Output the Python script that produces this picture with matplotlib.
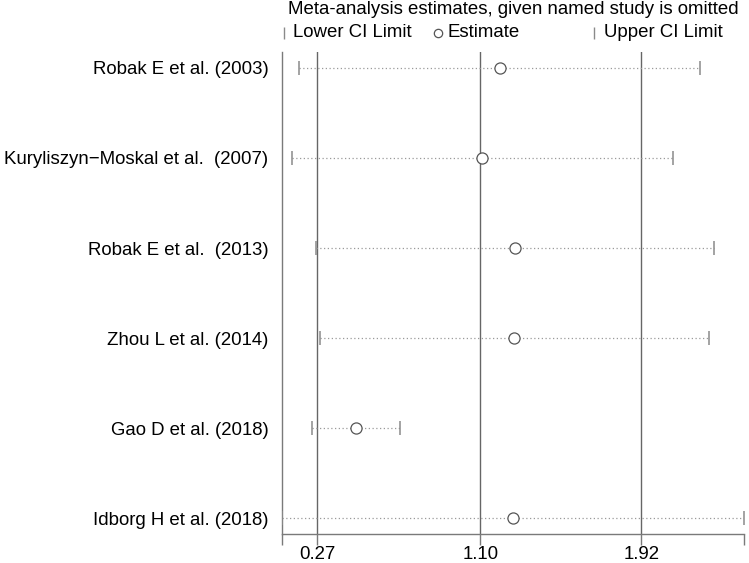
import matplotlib
matplotlib.use("Agg")
import matplotlib.pyplot as plt
from matplotlib.lines import Line2D

plt.rcParams['font.family'] = ['Liberation Sans', 'DejaVu Sans']

studies = ["Robak E et al. (2003)",
           "Kuryliszyn\u2212Moskal et al.  (2007)",
           "Robak E et al.  (2013)",
           "Zhou L et al. (2014)",
           "Gao D et al. (2018)",
           "Idborg H et al. (2018)"]
lower = [0.176, 0.140, 0.261, 0.282, 0.242, 0.088]
estimate = [1.200, 1.109, 1.278, 1.273, 0.469, 1.266]
upper = [2.221, 2.083, 2.291, 2.265, 0.693, 2.444]
overall = [0.27, 1.10, 1.92]
overall_labels = ["0.27", "1.10", "1.92"]

FS = 13.4
W, H = 749, 563
fig = plt.figure(figsize=(W / 100, H / 100), dpi=100)
ax = fig.add_axes([281.7 / W, 1 - 534 / H, (744 - 281.7) / W, (534 - 51.7) / H])

ypos = list(range(1, len(studies) + 1))
xmin, xmax = min(lower), max(upper)

for x in overall:
    ax.axvline(x, color='#666666', lw=1.0, zorder=1)

for y, lo, est, up in zip(ypos, lower, estimate, upper):
    ax.plot([lo, up], [y, y], linestyle=(0, (1, 2)), color='#9a9a9a', lw=0.9, zorder=2)
    ax.plot([lo, up], [y, y], linestyle='none', marker='|', markersize=10,
            mew=1.1, color='#8a8a8a', zorder=3)
    ax.plot([est], [y], linestyle='none', marker='o', markersize=8,
            mfc='white', mec='#555555', mew=0.9, zorder=4)

ax.set_xlim(xmin, xmax)
ax.set_ylim(6.175, 0.82)
ax.set_yticks(ypos)
ax.set_yticklabels(studies, fontsize=FS)
ax.tick_params(axis='y', length=0, pad=9.5)
ax.set_xticks([xmin] + overall + [xmax])
ax.set_xticklabels([""] + overall_labels + [""], fontsize=FS)
ax.tick_params(axis='x', length=8, width=1, color='#7a7a7a', pad=0.5)

for s in ['top', 'right']:
    ax.spines[s].set_visible(False)
for s in ['left', 'bottom']:
    ax.spines[s].set_color('#7a7a7a')
    ax.spines[s].set_linewidth(1.0)

# title and legend
fig.text(287.7 / W, 1 - 10 / H, "Meta-analysis estimates, given named study is omitted",
         fontsize=FS, ha='left', va='center')
ly = 1 - 32.5 / H
fig.add_artist(Line2D([284 / W], [ly], marker='|', markersize=8, mew=1, color='#8a8a8a',
                      transform=fig.transFigure))
fig.text(293 / W, ly, "Lower CI Limit", fontsize=FS, ha='left', va='center')
fig.add_artist(Line2D([438.3 / W], [ly], marker='o', markersize=6, mfc='white', mec='#555555',
                      mew=0.9, transform=fig.transFigure))
fig.text(447 / W, ly, "Estimate", fontsize=FS, ha='left', va='center')
fig.add_artist(Line2D([594 / W], [ly], marker='|', markersize=8, mew=1, color='#8a8a8a',
                      transform=fig.transFigure))
fig.text(604 / W, ly, "Upper CI Limit", fontsize=FS, ha='left', va='center')

fig.savefig("out.png", dpi=100)
